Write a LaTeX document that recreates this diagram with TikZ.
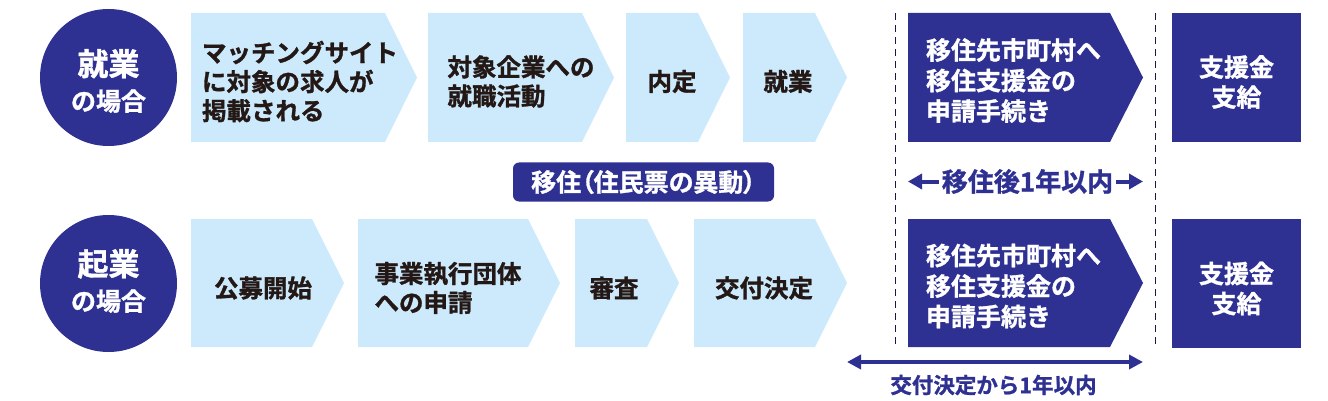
\documentclass[tikz,border=0pt]{standalone}
\usepackage{fontspec}
\setmainfont{Noto Sans CJK JP}[BoldFont=* Bold,BoldFeatures={FakeBold=1.2}]
\newfontfamily\paltfont{Noto Sans CJK JP}[BoldFont=* Bold,BoldFeatures={FakeBold=1.2},RawFeature=+palt]
\usetikzlibrary{arrows.meta}
\definecolor{navy}{HTML}{2E3192}
\definecolor{pale}{HTML}{CCEAFB}
\definecolor{ink}{HTML}{231815}

\begin{document}
\begin{tikzpicture}
[ x=1pt, y=-1pt
, case/.style={circle, fill=navy, minimum size=137pt, inner sep=0pt}
, casetext/.style={text=white, align=center, inner sep=0pt, font=\bfseries\fontsize{25}{35}\selectfont}
, stepfill/.style={fill=pale}
, steptext/.style={text=ink, align=left, inner sep=0pt, font=\bfseries\fontsize{24.5}{29}\selectfont}
, applyfill/.style={fill=navy}
, applytext/.style={text=white, align=left, inner sep=0pt, font=\bfseries\fontsize{25}{30.5}\selectfont}
, paybox/.style={rectangle, fill=navy, minimum width=129pt, minimum height=129pt, inner sep=0pt}
, paytext/.style={text=white, align=center, inner sep=0pt, font=\bfseries\fontsize{25}{30}\selectfont}
, movetag/.style={rectangle, rounded corners=6pt, fill=navy, text=white, minimum width=261pt, minimum height=39pt, inner sep=0pt, font=\paltfont\bfseries\fontsize{25}{30}\selectfont}
, periodtext/.style={text=navy, inner sep=3pt, font=\bfseries\fontsize{26}{30}\selectfont}
, granttext/.style={text=navy, inner sep=0pt, font=\bfseries\fontsize{21.5}{26}\selectfont}
, periodarrow/.style={navy, line width=4pt, -{Triangle[length=14pt,width=15pt]}}
, grantarrow/.style={navy, line width=3.5pt, {Triangle[length=14pt,width=14pt]}-{Triangle[length=14pt,width=14pt]}}
, deadline/.style={navy!50!black, line width=0.8pt, dash pattern=on 7pt off 5pt}
]
\useasboundingbox (0,0) rectangle (1328,401);

% deadlines
\draw [deadline] (895,13) -- (895,348);
\draw [deadline] (1155,13) -- (1155,348);

% employment row
\node (emp) [case] at (108.5,77.5) {};
\node (emptxt) [casetext] at (108.5,81) {{\fontsize{31}{35}\selectfont 就業}\\の場合};
\foreach \xa/\xb/\tx/\nm/\txt in
  {191/385/300/match/{マッチングサイト\\に対象の求人が\\掲載される},
   428/582/521/hunt/{対象企業への\\就職活動},
   626/698/672/offer/内定,
   743/815/788/work/就業}
{
  \fill [stepfill] (\xa,13) -- (\xb,13) -- (\xb+32,77.5) -- (\xb,142) -- (\xa,142) -- cycle;
  \node (\nm) [steptext] at (\tx,81.5) {\txt};
}
\fill [applyfill] (908,13) -- (1110,13) -- (1143,77.5) -- (1110,142) -- (908,142) -- cycle;
\node (apply1) [applytext] at (1013.5,80.5) {移住先市町村へ\\移住支援金の\\申請手続き};
\node (pay1) [paybox] at (1236.5,77.5) {};
\node (pay1txt) [paytext] at (1236.5,82) {支援金\\支給};

% moving in
\node (move) [movetag] at (643.5,182) {移住（住民票の異動）};
\node (period) [periodtext] at (1027.5,181.5) {移住後1年以内};
\coordinate (periodL) at (908,181.5);
\coordinate (periodR) at (1143,181.5);
\draw [periodarrow] (period.west) -- (periodL);
\draw [periodarrow] (period.east) -- (periodR);

% startup row
\node (start) [case] at (108.5,283.5) {};
\node (starttxt) [casetext] at (108.5,281) {{\fontsize{31}{35}\selectfont 起業}\\の場合};
\foreach \xa/\xb/\tx/\nm/\txt in
  {191/312/263/call/公募開始,
   358/528/448/entry/{事業執行団体\\への申請},
   575/647/614/review/審査,
   694/815/764/grant/交付決定}
{
  \fill [stepfill] (\xa,219) -- (\xb,219) -- (\xb+32,283) -- (\xb,347) -- (\xa,347) -- cycle;
  \node (\nm) [steptext] at (\tx,288) {\txt};
}
\fill [applyfill] (908,219) -- (1110,219) -- (1143,283) -- (1110,347) -- (908,347) -- cycle;
\node (apply2) [applytext] at (1013.5,286) {移住先市町村へ\\移住支援金の\\申請手続き};
\node (pay2) [paybox] at (1236.5,283) {};
\node (pay2txt) [paytext] at (1236.5,288.5) {支援金\\支給};

% grant period
\coordinate (grantL) at (847,362);
\coordinate (grantR) at (1143,362);
\draw [grantarrow] (grantL) -- (grantR);
\node (limit) [granttext] at (993.5,385) {交付決定から1年以内};
\end{tikzpicture}
\end{document}
